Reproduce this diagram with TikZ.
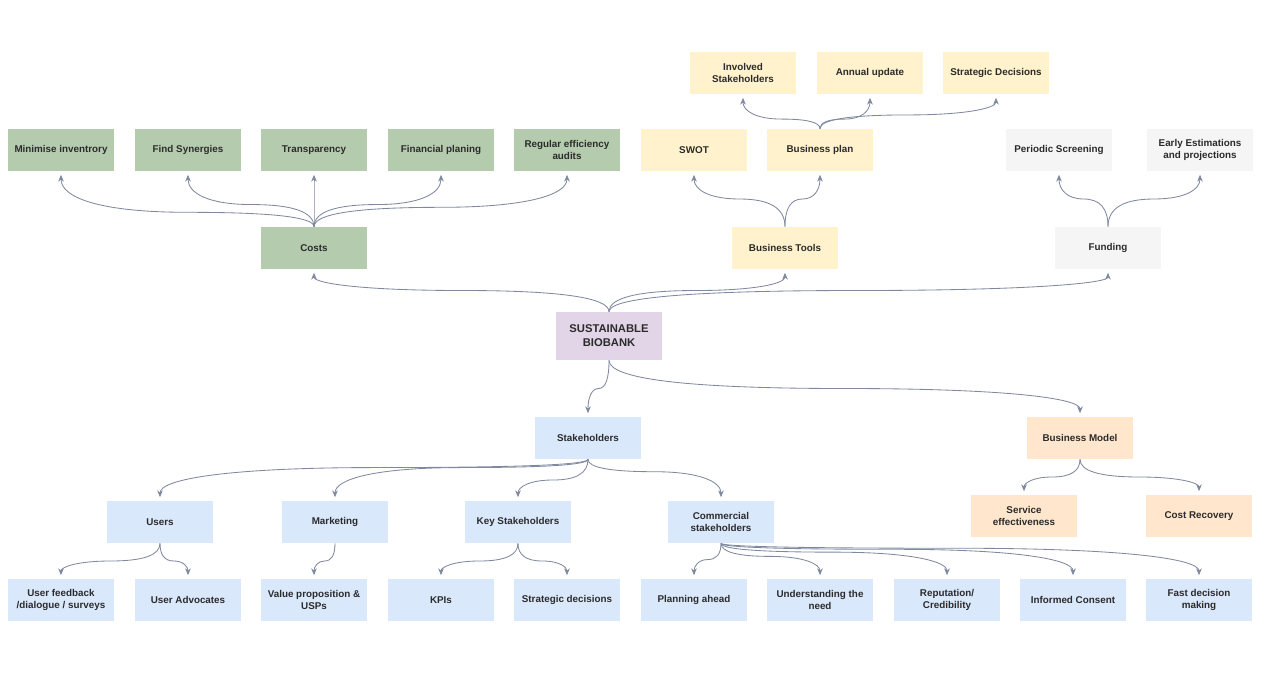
\documentclass[tikz,border=0pt]{standalone}
\usepackage{fontspec}
\setmainfont{Liberation Sans}
\usepackage{tikz}
\usetikzlibrary{arrows.meta,calc}
\definecolor{cgreen}{HTML}{B5CBAE}
\definecolor{cyellow}{HTML}{FFF2CC}
\definecolor{cgrey}{HTML}{F5F5F5}
\definecolor{cpurple}{HTML}{E1D5E7}
\definecolor{cblue}{HTML}{DAE8FC}
\definecolor{corange}{HTML}{FFE6CC}
\definecolor{cline}{HTML}{7E889E}
\definecolor{ctext}{HTML}{2B2B2B}
\tikzset{
  box/.style={draw=none, minimum width=2.625cm, minimum height=1.05cm, inner sep=1pt,
    align=center, text=ctext, font=\fontsize{7}{8.5}\selectfont\bfseries},
  costn/.style={box, fill=cgreen},
  tooln/.style={box, fill=cyellow},
  fundn/.style={box, fill=cgrey},
  hubn/.style={box, fill=cpurple, minimum height=1.2cm, font=\fontsize{8}{10}\selectfont\bfseries},
  staken/.style={box, fill=cblue},
  modeln/.style={box, fill=corange},
  pre/.style={-{Stealth[length=1.7mm,width=1.4mm]}, draw=cline, line width=0.6pt, shorten >=2.5pt},
  curvy/.style={to path={let \p1=(\tikztostart), \p2=(\tikztotarget),
      \n1={\y1+#1*(\y2-\y1)}, \n2={(\x1+\x2)/2} in
    .. controls (\x1,{\y1/3+2*\n1/3}) and ({\n2/3+2*\x1/3},\n1) .. (\n2,\n1)
    .. controls ({\n2/3+2*\x2/3},\n1) and (\x2,{\y2/3+2*\n1/3}) .. (\tikztotarget)}},
  curvy/.default=0.5,
}

\begin{document}
\begin{tikzpicture}[x=0.025cm,y=-0.025cm]
\useasboundingbox (0,0) rectangle (1265,677);
% centre
\node[hubn] (bio) at (609,336) {SUSTAINABLE\\BIOBANK};
% costs branch
\node[costn] (costs) at (314,248) {Costs};
\node[costn] (c1) at (61,150)  {Minimise inventrory};
\node[costn] (c2) at (188,150) {Find Synergies};
\node[costn] (c3) at (314,150) {Transparency};
\node[costn] (c4) at (441,150) {Financial planing};
\node[costn] (c5) at (567,150) {Regular efficiency\\audits};
% business tools branch
\node[tooln] (btools) at (785,248) {Business Tools};
\node[tooln] (swot) at (694,150)  {SWOT};
\node[tooln] (bplan) at (820,150) {Business plan};
\node[tooln] (p1) at (743,73) {Involved\\Stakeholders};
\node[tooln] (p2) at (870,73) {Annual update};
\node[tooln] (p3) at (996,73) {Strategic Decisions};
% funding branch
\node[fundn] (fund) at (1108,248) {Funding};
\node[fundn] (f1) at (1059,150) {Periodic Screening};
\node[fundn] (f2) at (1200,150) {Early Estimations\\and projections};
% stakeholders branch
\node[staken] (stake) at (588,438) {Stakeholders};
\node[staken] (users) at (160,522) {Users};
\node[staken] (mkt) at (335,522)   {Marketing};
\node[staken] (keys) at (518,522)  {Key Stakeholders};
\node[staken] (comm) at (721,522)  {Commercial\\stakeholders};
\node[staken] (u1) at (61,600)   {User feedback\\/dialogue / surveys};
\node[staken] (u2) at (188,600)  {User Advocates};
\node[staken] (v1) at (314,600)  {Value proposition \&\\USPs};
\node[staken] (k1) at (441,600)  {KPIs};
\node[staken] (k2) at (567,600)  {Strategic decisions};
\node[staken] (m1) at (694,600)  {Planning ahead};
\node[staken] (m2) at (820,600)  {Understanding the\\need};
\node[staken] (m3) at (947,600)  {Reputation/\\Credibility};
\node[staken] (m4) at (1073,600) {Informed Consent};
\node[staken] (m5) at (1199,600) {Fast decision\\making};
% business model branch
\node[modeln] (bmodel) at (1080,438) {Business Model};
\node[modeln] (b1) at (1024,516) {Service\\effectiveness};
\node[modeln] (b2) at (1199,516) {Cost Recovery};
% connectors (third value: where the curve levels off)
\foreach \a/\b/\f in {bio/costs/0.5,bio/btools/0.5,bio/fund/0.5,
  costs/c1/0.26,costs/c2/0.4,costs/c3/0.5,costs/c4/0.4,costs/c5/0.35,
  btools/swot/0.5,btools/bplan/0.5,bplan/p1/0.28,bplan/p2/0.28,bplan/p3/0.4,
  fund/f1/0.5,fund/f2/0.5}
  \draw[pre] (\a.north) to[curvy=\f] (\b.south);
\foreach \a/\b/\f in {bio/stake/0.5,bio/bmodel/0.5,
  stake/users/0.2,stake/mkt/0.2,stake/keys/0.5,stake/comm/0.3,
  comm/m1/0.46,comm/m2/0.37,comm/m3/0.25,comm/m4/0.17,comm/m5/0.14,
  users/u1/0.5,users/u2/0.5,mkt/v1/0.5,keys/k1/0.5,keys/k2/0.5,
  bmodel/b1/0.5,bmodel/b2/0.5}
  \draw[pre] (\a.south) to[curvy=\f] (\b.north);
\end{tikzpicture}
\end{document}
